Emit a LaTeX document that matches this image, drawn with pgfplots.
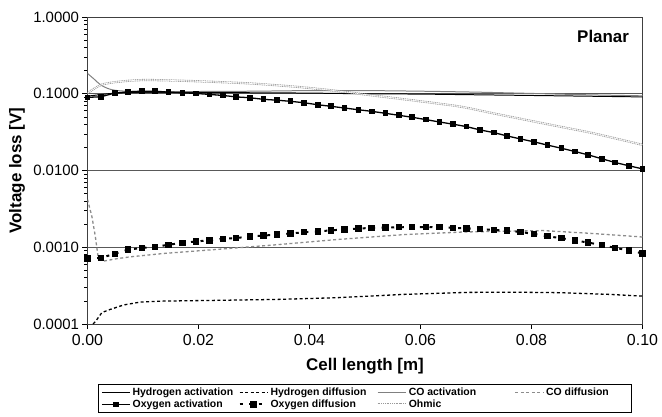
\documentclass[border=0pt]{standalone}
\usepackage{fontspec}
\setmainfont{Liberation Sans}
\usepackage{pgfplots}
\pgfplotsset{compat=1.18}
\begin{document}
\begin{tikzpicture}
\path[use as bounding box] (0,0) rectangle (662bp,417bp);
\begin{axis}[
  at={(87.5bp,93bp)}, anchor=south west,
  width=555bp, height=307bp, scale only axis,
  xmin=0, xmax=0.1, ymode=log, ymin=1e-4, ymax=1,
  axis line style={draw=black!75, line width=0.8pt},
  xtick={0,0.02,0.04,0.06,0.08,0.1},
  xticklabels={0.00,0.02,0.04,0.06,0.08,0.10},
  ytick={1e-4,1e-3,1e-2,1e-1,1},
  yticklabels={0.0001,0.0010,0.0100,0.1000,1.0000},
  xtick pos=lower, ytick pos=left, tick align=outside,
  major tick length=5bp, minor tick length=3bp,
  tick style={black, line width=0.6pt},
  ymajorgrids, major grid style={black!65, line width=0.8pt},
  xticklabel style={font=\fontsize{16}{18}\selectfont, yshift=-2bp},
  yticklabel style={font=\fontsize{15}{17}\selectfont},
  xlabel={Cell length [m]},
  xlabel style={font=\fontsize{17}{19}\selectfont\bfseries, at={(axis description cs:0.5,-0.137)}, anchor=center},
  ylabel={Voltage loss [V]},
  ylabel style={font=\fontsize{17}{19}\selectfont\bfseries, at={(axis description cs:-0.127,0.5)}, anchor=center},
  legend columns=4,
  legend style={at={(axis description cs:0.019,-0.197)}, anchor=north west, draw=black, line width=0.6pt,
    font=\fontsize{10.5}{12}\selectfont\bfseries, /tikz/column sep=0pt, row sep=-1bp, inner ysep=1bp},
  legend image code/.code={\draw[mark repeat=2,mark phase=2] plot coordinates {(0bp,0bp) (14bp,0bp) (28bp,0bp)};},
]
% Hydrogen activation
\addplot[black, line width=1pt, smooth] coordinates {
(0,0.093) (0.005,0.102) (0.01,0.104) (0.02,0.104) (0.03,0.103) (0.04,0.102) (0.05,0.100)
(0.06,0.099) (0.07,0.097) (0.08,0.095) (0.09,0.093) (0.1,0.091)};
\addlegendentry{\makebox[104bp][l]{Hydrogen activation}}
% Hydrogen diffusion
\addplot[black, line width=1.3pt, dash pattern=on 3pt off 2.5pt] coordinates {
(0.0010,0.000100) (0.0014,0.000107) (0.0026,0.000141) (0.0041,0.000155) (0.0065,0.000177)
(0.0095,0.000193) (0.0137,0.000199) (0.0227,0.000203) (0.0341,0.000209) (0.0449,0.000220)
(0.0569,0.000243) (0.0683,0.000258) (0.0761,0.000260) (0.0851,0.000256) (0.0941,0.000243) (0.1,0.000231)};
\addlegendentry{\makebox[104bp][l]{Hydrogen diffusion}}
% CO activation
\addplot[black!50, line width=1pt, smooth] coordinates {
(0,0.184) (0.0012,0.155) (0.0024,0.130) (0.004,0.115) (0.006,0.109) (0.01,0.107) (0.02,0.107)
(0.03,0.108) (0.04,0.110) (0.05,0.110) (0.06,0.108) (0.07,0.105) (0.08,0.101) (0.09,0.097) (0.1,0.094)};
\addlegendentry{\makebox[104bp][l]{CO activation}}
% CO diffusion
\addplot[black!45, line width=1.3pt, dash pattern=on 3pt off 2.5pt] coordinates {
(0,0.0042) (0.0008,0.0025) (0.0014,0.0014) (0.0019,0.00076) (0.0029,0.00066) (0.0053,0.00071)
(0.0077,0.00075) (0.0137,0.00083) (0.0227,0.00093) (0.0335,0.00107) (0.0449,0.00126)
(0.0569,0.00146) (0.0677,0.00158) (0.0821,0.00165) (0.0911,0.00151) (0.1,0.00136)};
\addlegendentry{\makebox[80bp][l]{CO diffusion}}
% Oxygen activation
\addplot[black, line width=1.3pt, mark=square*, mark size=2.2pt] coordinates {
(0.0000,0.0897) (0.0024,0.0914) (0.0049,0.102) (0.0073,0.106) (0.0098,0.108) (0.0122,0.108)
(0.0146,0.105) (0.0171,0.103) (0.0195,0.101) (0.0220,0.098) (0.0244,0.095) (0.0268,0.091)
(0.0293,0.0887) (0.0317,0.0846) (0.0341,0.0825) (0.0366,0.0797) (0.0390,0.0764) (0.0415,0.0719)
(0.0439,0.0686) (0.0463,0.0652) (0.0488,0.0619) (0.0512,0.0590) (0.0537,0.0556) (0.0561,0.0524)
(0.0585,0.0494) (0.0610,0.0460) (0.0634,0.0429) (0.0659,0.0401) (0.0683,0.0373) (0.0707,0.0338)
(0.0732,0.0312) (0.0756,0.0282) (0.0780,0.0258) (0.0805,0.0236) (0.0829,0.0214) (0.0854,0.0195)
(0.0878,0.0177) (0.0902,0.0160) (0.0927,0.0142) (0.0951,0.0127) (0.0976,0.0115) (0.1000,0.0105)};
\addlegendentry{\makebox[104bp][l]{Oxygen activation}}
% Oxygen diffusion
\addplot[black, line width=2pt, dash pattern=on 3pt off 6.6pt, mark=square*, mark size=2.2pt, mark options={solid}] coordinates {
(0.0000,0.000713) (0.0024,0.000728) (0.0049,0.00082) (0.0073,0.00093) (0.0098,0.00098) (0.0122,0.00101)
(0.0146,0.00108) (0.0171,0.00114) (0.0195,0.00119) (0.0220,0.00123) (0.0244,0.00129) (0.0268,0.00132)
(0.0293,0.00138) (0.0317,0.00142) (0.0341,0.00146) (0.0366,0.00151) (0.0390,0.00157) (0.0415,0.00161)
(0.0439,0.00166) (0.0463,0.00171) (0.0488,0.00175) (0.0512,0.00179) (0.0537,0.00180) (0.0561,0.00182)
(0.0585,0.00183) (0.0610,0.00183) (0.0634,0.00182) (0.0659,0.00179) (0.0683,0.00176) (0.0707,0.00173)
(0.0732,0.00168) (0.0756,0.00165) (0.0780,0.00158) (0.0805,0.00149) (0.0829,0.00139) (0.0854,0.00131)
(0.0878,0.00123) (0.0902,0.00115) (0.0927,0.00107) (0.0951,0.00098) (0.0976,0.00091) (0.1000,0.00083)};
\addlegendentry{\makebox[104bp][l]{Oxygen diffusion}}
% Ohmic
\addplot[black!40, line width=2.2pt, dash pattern=on 1pt off 0.8pt, smooth,
  postaction={draw=white, line width=0.6pt, solid}] coordinates {
(0,0.102) (0.0024,0.130) (0.0048,0.141) (0.0077,0.148) (0.0107,0.151) (0.0167,0.148) (0.0226,0.143)
(0.0287,0.137) (0.0335,0.130) (0.0389,0.121) (0.0449,0.109) (0.0509,0.096) (0.0569,0.085)
(0.0629,0.075) (0.0677,0.067) (0.0731,0.0556) (0.0791,0.0455) (0.0851,0.0373) (0.0911,0.0306) (0.1,0.0216)};
\addlegendentry{\makebox[104bp][l]{Ohmic}}
\node[font=\fontsize{17}{19}\selectfont\bfseries] at (axis description cs:0.929,0.937) {Planar};
\end{axis}
\end{tikzpicture}
\end{document}
